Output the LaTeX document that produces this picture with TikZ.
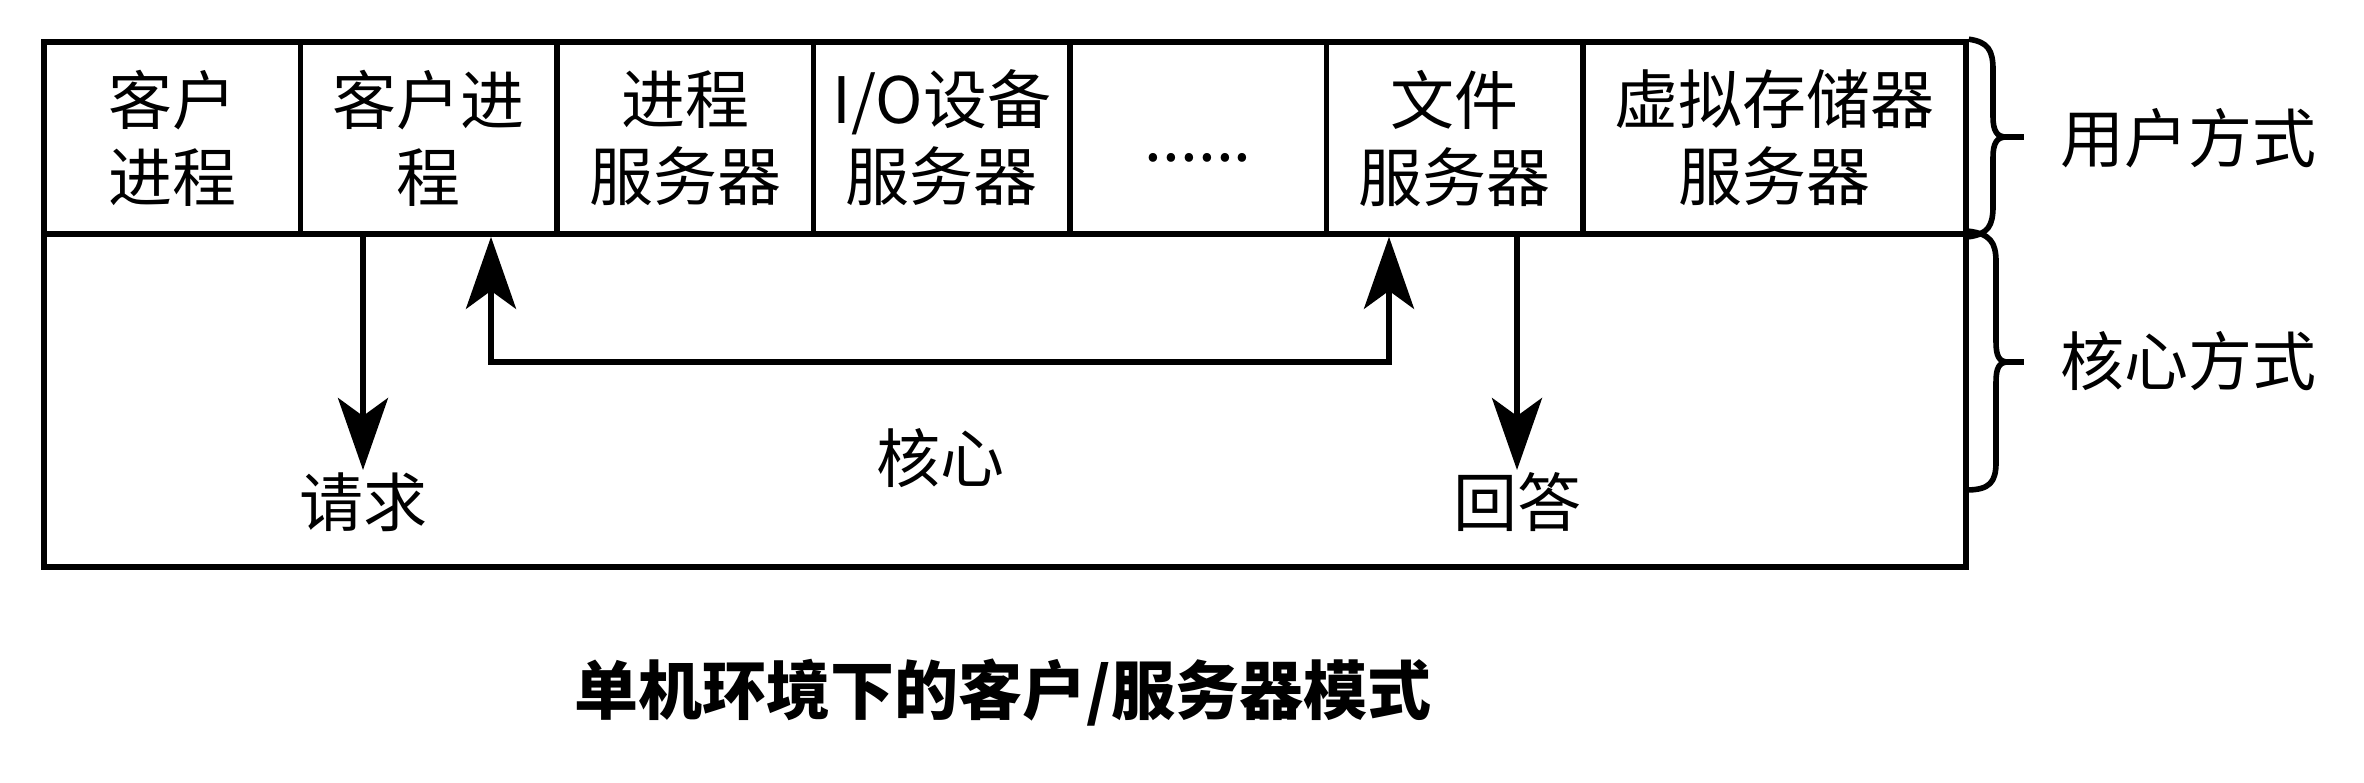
\documentclass[tikz,border=0pt]{standalone}
\usepackage{fontspec}
\newfontfamily\cjk{Noto Sans CJK SC}
\usetikzlibrary{arrows.meta}
\begin{document}
\begin{tikzpicture}[x=0.5pt,y=-0.5pt,
  txt/.style={font=\cjk\fontsize{32}{38.5}\selectfont, align=center, inner sep=0pt},
  cell/.style={draw, line width=2.8pt, minimum height=96pt, minimum width=128.25pt, inner sep=0pt, txt},
  conn/.style={line width=2.8pt, -{Stealth[length=36pt,width=25pt,inset=9pt]}},
  biconn/.style={line width=2.8pt, {Stealth[length=36pt,width=25pt,inset=9pt]}-{Stealth[length=36pt,width=25pt,inset=9pt]}},
  bracel/.style={line width=2.8pt, line join=round},
  title/.style={font=\cjk\bfseries\fontsize{32}{38}\selectfont, inner sep=0pt}
]
\useasboundingbox (0,0) rectangle (2364,782);
\fill[white] (0,0) rectangle (2364,782);

% kernel area
\node[draw, line width=2.8pt, minimum width=961pt, minimum height=166.5pt, inner sep=0pt] (kern) at (1005,400.5) {};

% user cells
\node[cell] (c1) at (172.25,138) {客户\\进程};
\node[cell] (c2) at (428.75,138) {客户进\\程};
\node[cell] (c3) at (685.25,138) {进程\\服务器};
\node[cell] (c4) at (941.75,138) {I/O设备\\服务器};
\node[cell] (c5) at (1198.25,138) {};
\node[cell] (c6) at (1454.75,138) {文件\\服务器};
\node[cell, minimum width=191.5pt] (c7) at (1774.5,138) {虚拟存储器\\服务器};
\node[txt, anchor=base] (dots) at ([yshift=-11.5pt]c5.center) {......};

% labels in kernel
\node[txt] (core) at (940,458) {核心};
\node[txt] (req) at (363,502) {请求};
\node[txt] (ans) at (1517,502) {回答};

\coordinate (reqtip) at (363,470);
\coordinate (anstip) at (1517,470);
\coordinate (bl) at (491,362);
\coordinate (br) at (1389,362);

\draw[conn] (c2.south -| reqtip) -- (reqtip);
\draw[conn] (c6.south -| anstip) -- (anstip);
\draw[biconn] (c2.south -| bl) -- (bl) -- (br) -- (c6.south -| br);

% braces
\draw[bracel] (c7.north east) .. controls (1988,42) and (1993,50) .. (1993,70) -- (1993,117)
  .. controls (1993,131) and (1997,137) .. (2006,137)
  .. controls (1997,137) and (1993,143) .. (1993,157) -- (1993,206)
  .. controls (1993,226) and (1988,234) .. (c7.south east);
\draw[bracel] (2006,137) -- (2024,137);
\draw[bracel] (kern.north east) .. controls (1990,234) and (1996,242) .. (1996,262) -- (1996,342)
  .. controls (1996,356) and (1999,362) .. (2008,362)
  .. controls (1999,362) and (1996,368) .. (1996,382) -- (1996,462)
  .. controls (1996,482) and (1990,490) .. (1966,490);
\draw[bracel] (2008,362) -- (2024,362);

\node[txt] (umode) at (2188,138) {用户方式};
\node[txt] (kmode) at (2188,361) {核心方式};

\node[title] (ttl) at (1003,693) {单机环境下的客户/服务器模式};
\end{tikzpicture}
\end{document}
